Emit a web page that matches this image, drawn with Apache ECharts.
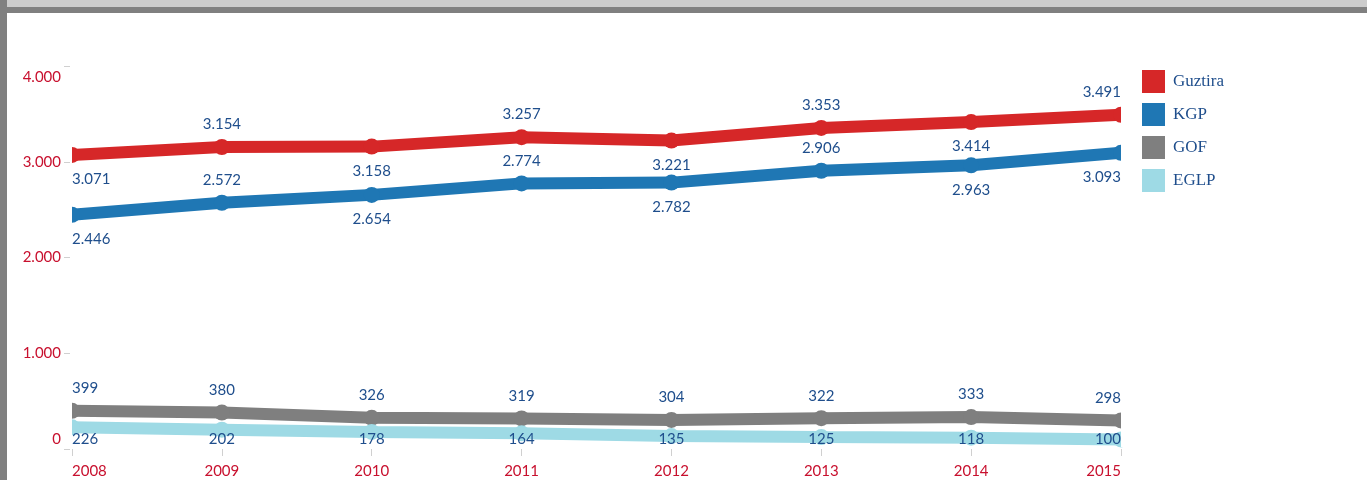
<!DOCTYPE html>
<html>
<head>
<meta charset="utf-8">
<script src="https://cdn.jsdelivr.net/npm/echarts@6/dist/echarts.min.js"></script>
<style>
  html, body { margin: 0; padding: 0; background: #ffffff; }
  #chart { width: 1367px; height: 480px; }
</style>
</head>
<body>
<div id="chart"></div>
<script>
// Years on the category axis
const years = ['2008', '2009', '2010', '2011', '2012', '2013', '2014', '2015'];

// Values per group
const guztira = [3071, 3154, 3158, 3257, 3221, 3353, 3414, 3491];
const kgp     = [2446, 2572, 2654, 2774, 2782, 2906, 2963, 3093];
const gof     = [399, 380, 326, 319, 304, 322, 333, 298];
const eglp    = [226, 202, 178, 164, 135, 125, 118, 100];

// Which side of the line each value label sits on
const guztiraSide = ['bottom', 'top', 'bottom', 'top', 'bottom', 'top', 'bottom', 'top'];
const kgpSide     = ['bottom', 'top', 'bottom', 'top', 'bottom', 'top', 'bottom', 'bottom'];
const gofSide     = ['top', 'top', 'top', 'top', 'top', 'top', 'top', 'top'];

const labelBlue = '#1f4e8c';
const axisRed = '#c8102e';
const tickGrey = '#d0d0d0';
const LABEL_FONT = 15;

// Thousands separator as a dot
function fmt(v) {
  return String(v).replace(/\B(?=(\d{3})+(?!\d))/g, '.');
}

// Keep the end labels inside the plot: first one hangs right, last one hangs left
function edgeAlign(i, n) {
  return i === 0 ? 'left' : (i === n - 1 ? 'right' : 'center');
}

function labelled(values, sides) {
  return values.map((v, i) => ({
    value: v,
    label: {
      position: sides[i],
      distance: sides[i] === 'top' ? 7 : 9,
      align: edgeAlign(i, values.length)
    }
  }));
}

function lineSeries(name, color, data) {
  return {
    name: name,
    type: 'line',
    data: data,
    symbol: 'circle',
    symbolSize: 16,
    lineStyle: { width: 12, color: color },
    itemStyle: { color: color },
    label: {
      show: true,
      color: labelBlue,
      fontFamily: 'Lato',
      fontSize: LABEL_FONT,
      formatter: p => fmt(p.value)
    },
    emphasis: { disabled: true },
    animation: false
  };
}

const W = 1367, H = 480;
const chart = echarts.init(document.getElementById('chart'), null, { renderer: 'canvas', width: W, height: H });

const grid = { left: 72, right: 246, top: 66, bottom: 31, containLabel: false };
const plotRight = W - grid.right;
const plotBottom = H - grid.bottom;

chart.setOption({
  backgroundColor: '#ffffff',
  animation: false,
  grid: grid,
  legend: {
    orient: 'vertical',
    left: 1142,
    top: 70,
    padding: 0,
    itemWidth: 23,
    itemHeight: 23,
    itemGap: 10,
    icon: 'rect',
    selectedMode: false,
    textStyle: {
      fontFamily: 'Liberation Serif',
      fontSize: 17,
      color: labelBlue,
      padding: [0, 0, 0, 3]
    },
    data: ['Guztira', 'KGP', 'GOF', 'EGLP']
  },
  xAxis: {
    type: 'category',
    data: years,
    boundaryGap: false,
    z: 10,
    axisLine: { show: false },
    axisTick: { show: true, length: 7, lineStyle: { color: tickGrey } },
    axisLabel: {
      color: axisRed,
      fontFamily: 'Lato',
      fontSize: 15,
      margin: 15,
      alignMinLabel: 'left',
      alignMaxLabel: 'right',
      padding: [0, 0, 0, 0]
    },
    splitLine: { show: false }
  },
  yAxis: {
    type: 'value',
    min: 0,
    max: 4000,
    interval: 1000,
    z: 10,
    offset: 2,
    axisLine: { show: false },
    axisTick: { show: true, length: 6, lineStyle: { color: tickGrey } },
    splitLine: { show: false },
    axisLabel: {
      color: axisRed,
      fontFamily: 'Lato',
      fontSize: 15,
      margin: 9,
      formatter: v => {
        if (v === 4000) return '{lo|' + fmt(v) + '}';
        if (v === 0) return '{hi|' + fmt(v) + '}';
        return fmt(v);
      },
      rich: {
        lo: { color: axisRed, fontFamily: 'Lato', fontSize: 15, padding: [22, 0, 0, 0] },
        hi: { color: axisRed, fontFamily: 'Lato', fontSize: 15, padding: [0, 0, 20, 0] }
      }
    }
  },
  series: [
    lineSeries('Guztira', '#d62728', labelled(guztira, guztiraSide)),
    lineSeries('KGP', '#1f77b4', labelled(kgp, kgpSide)),
    lineSeries('GOF', '#7f7f7f', labelled(gof, gofSide)),
    lineSeries('EGLP', '#9edae5', eglp)
  ],
  graphic: [
    // lines and end markers are cut flush at the plot's left and right edges
    { type: 'rect', z: 5, shape: { x: 7, y: grid.top - 10, width: grid.left - 7, height: plotBottom - grid.top + 8 }, style: { fill: '#ffffff' } },
    { type: 'rect', z: 5, shape: { x: plotRight, y: grid.top - 10, width: 18, height: plotBottom - grid.top + 8 }, style: { fill: '#ffffff' } },
    // window frame
    { type: 'rect', z: 100, shape: { x: 0, y: 0, width: W, height: 7 }, style: { fill: '#cccccc' } },
    { type: 'rect', z: 100, shape: { x: 0, y: 7, width: W, height: 6 }, style: { fill: '#808080' } },
    { type: 'rect', z: 101, shape: { x: 0, y: 0, width: 7, height: H }, style: { fill: '#808080' } }
  ]
});

// EGLP labels go below their points, but are held inside the plot's bottom edge
const eglpData = eglp.map((v, i) => {
  const y = chart.convertToPixel({ yAxisIndex: 0 }, v);
  const wanted = y + 24;
  const limit = plotBottom - LABEL_FONT / 2 - 2;
  return {
    value: v,
    label: {
      position: 'inside',
      align: edgeAlign(i, eglp.length),
      offset: [0, Math.min(wanted, limit) - y]
    }
  };
});
chart.setOption({ series: [{}, {}, {}, { data: eglpData }] });
</script>
</body>
</html>
